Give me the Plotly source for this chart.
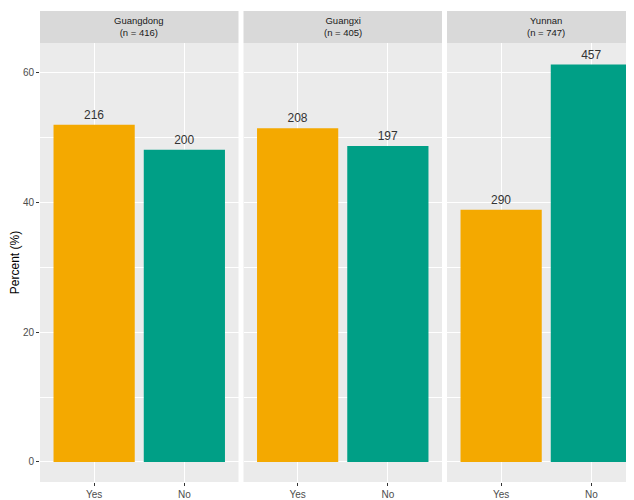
import plotly.graph_objects as go
from plotly.subplots import make_subplots

regions = ["Guangdong", "Guangxi", "Yunnan"]
categories = ["Yes", "No"]
yes_counts = [216, 208, 290]
no_counts = [200, 197, 457]
totals = [416, 405, 747]
y_ticks = [0, 20, 40, 60]

colors = {"Yes": "#F4A900", "No": "#009F86"}

# page body has an 8px default margin, so the figure is sized to fit
W, H = 626, 492
ml, mr, mt, mb = 32, 0, 3, 18
pw = W - ml - mr
ph = H - mt - mb
full_panel = 198.5
panels_px = [(32, 230.5), (235.5, 434), (439, 626)]  # last panel is cut at right edge
strip_px = 32  # strip height

fig = make_subplots(rows=1, cols=3, shared_yaxes=True)

for i, reg in enumerate(regions):
    counts = [yes_counts[i], no_counts[i]]
    pct = [c / totals[i] * 100 for c in counts]
    fig.add_trace(go.Bar(
        x=categories, y=pct, width=0.9,
        marker=dict(color=[colors[c] for c in categories], line=dict(width=0)),
        text=[str(c) for c in counts], textposition="outside",
        textfont=dict(size=12, color="#333333", family="Liberation Sans, Arial"),
        cliponaxis=False, showlegend=False,
    ), row=1, col=i + 1)

ydom_top = (ph - strip_px) / ph
for i, (x0, x1) in enumerate(panels_px):
    d0 = (x0 - ml) / pw
    d1 = (x1 - ml) / pw
    xr_hi = -0.6 + 2.2 * (x1 - x0) / full_panel
    xa = "xaxis" if i == 0 else f"xaxis{i+1}"
    ya = "yaxis" if i == 0 else f"yaxis{i+1}"
    fig.layout[xa].update(domain=[d0, d1], range=[-0.6, xr_hi], type="category",
                          showgrid=True, gridcolor="white", gridwidth=1.1,
                          ticks="outside", ticklen=3, tickcolor="#333333",
                          tickfont=dict(size=10, color="#4D4D4D"), showline=False, zeroline=False,
                          automargin=False)
    fig.layout[ya].update(domain=[0, ydom_top], range=[-3.08, 64.5],
                          showgrid=True, gridcolor="white", gridwidth=1.1,
                          zeroline=False, showline=False, automargin=False,
                          minor=dict(showgrid=True, gridcolor="white", gridwidth=0.5, dtick=10, tick0=0))
    fig.add_shape(type="rect", xref="paper", yref="paper", x0=d0, x1=d1,
                  y0=ydom_top, y1=1, fillcolor="#D9D9D9", line=dict(width=0), layer="below")
    fig.add_shape(type="rect", xref="paper", yref="paper", x0=d0, x1=d1,
                  y0=0, y1=ydom_top, fillcolor="#EBEBEB", line=dict(width=0), layer="below")
    cx = (x0 - ml + full_panel / 2) / pw
    fig.add_annotation(xref="paper", yref="paper", x=cx, y=(1 + ydom_top) / 2,
                       xanchor="center", yanchor="middle",
                       text=f"{regions[i]}<br>(n = {totals[i]})", showarrow=False,
                       font=dict(size=9.5, color="#1A1A1A"), align="center")

fig.update_yaxes(tickvals=y_ticks, ticks="outside", ticklen=3, tickcolor="#333333",
                 tickfont=dict(size=10, color="#4D4D4D"))
fig.update_yaxes(title=dict(text="Percent (%)", font=dict(size=12, color="black"), standoff=4), row=1, col=1)
fig.update_yaxes(showticklabels=False, ticks="", row=1, col=2)
fig.update_yaxes(showticklabels=False, ticks="", row=1, col=3)

fig.update_layout(width=W, height=H, margin=dict(l=ml, r=mr, t=mt, b=mb),
                  plot_bgcolor="rgba(0,0,0,0)", paper_bgcolor="white",
                  font=dict(family="Liberation Sans, Arial", color="#4D4D4D"),
                  bargap=0.1)

fig.write_html("out.html")
